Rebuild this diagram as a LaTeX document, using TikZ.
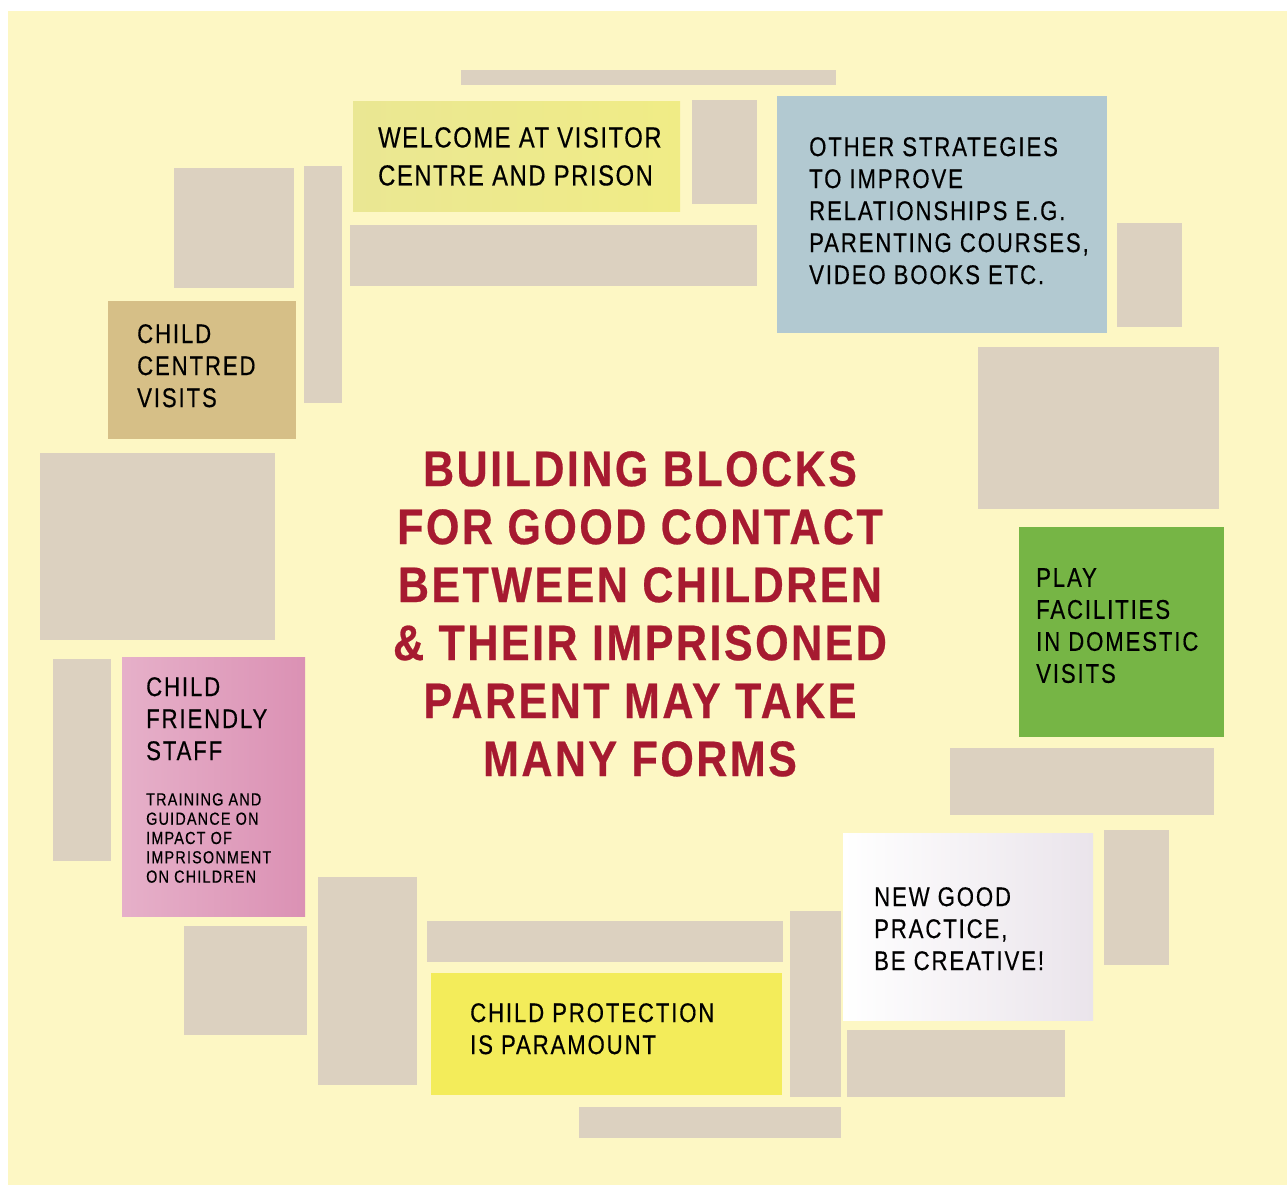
\documentclass[tikz,border=0pt]{standalone}
\usepackage{fontspec}
\newfontfamily\bodyfont[FakeStretch=0.82,LetterSpace=7,FakeBold=0.4]{Liberation Sans}
\newfontfamily\welcomefont[FakeStretch=0.82,LetterSpace=5.5,FakeBold=0.4]{Liberation Sans}
\newfontfamily\headfont[FakeStretch=0.86,LetterSpace=5,FakeBold=0.5]{Liberation Sans}
\definecolor{bgyellow}{HTML}{FDF7C4}
\definecolor{block}{HTML}{DCD1C0}
\definecolor{welcomel}{HTML}{EAE793}
\definecolor{welcomer}{HTML}{F0EC86}
\definecolor{bluec}{HTML}{B2C9D1}
\definecolor{tanc}{HTML}{D6BF87}
\definecolor{greenc}{HTML}{76B545}
\definecolor{pinkl}{HTML}{E6B0C9}
\definecolor{pinkr}{HTML}{DB91B4}
\definecolor{whiter}{HTML}{EAE4EB}
\definecolor{yellowc}{HTML}{F3EC5A}
\definecolor{headred}{HTML}{A61A30}
\tikzset{
  blk/.style={fill=block},
  txt/.style={inner sep=0pt, anchor=north west, align=left, text=black,
    font=\bodyfont\fontsize{27}{32}\selectfont},
  smalltxt/.style={inner sep=0pt, anchor=north west, align=left, text=black,
    font=\bodyfont\fontsize{17.5}{19.3}\selectfont},
  headtxt/.style={inner sep=0pt, anchor=north, align=center, text=headred,
    font=\headfont\bfseries\fontsize{50}{58}\selectfont}
}
\begin{document}
\begin{tikzpicture}[x=1pt,y=-1pt]
\useasboundingbox[fill=white] (0,0) rectangle (1287,1185);
\fill[bgyellow] (8,11) rectangle (1287,1185);
% grey blocks
\fill[blk] (461,70) rectangle (836,85);
\fill[blk] (692,100) rectangle (757,204);
\fill[blk] (350,225) rectangle (757,286);
\fill[blk] (174,168) rectangle (294,288);
\fill[blk] (304,166) rectangle (342,403);
\fill[blk] (40,453) rectangle (275,640);
\fill[blk] (53,659) rectangle (111,861);
\fill[blk] (184,926) rectangle (307,1035);
\fill[blk] (318,877) rectangle (417,1085);
\fill[blk] (427,921) rectangle (783,962);
\fill[blk] (790,911) rectangle (841,1097);
\fill[blk] (579,1107) rectangle (841,1138);
\fill[blk] (847,1030) rectangle (1065,1097);
\fill[blk] (1104,830) rectangle (1169,965);
\fill[blk] (950,748) rectangle (1214,815);
\fill[blk] (978,347) rectangle (1219,509);
\fill[blk] (1117,223) rectangle (1182,327);
% coloured boxes
\shade[left color=welcomel, right color=welcomer] (353,102) rectangle (680,211);
\fill[bluec] (777,96) rectangle (1107,333);
\fill[tanc] (108,301) rectangle (296,439);
\shade[left color=pinkl, right color=pinkr] (122,657) rectangle (305,916);
\fill[greenc] (1019,527) rectangle (1224,737);
\shade[left color=white, right color=whiter] (843,833) rectangle (1093,1020);
\fill[yellowc] (431,973) rectangle (782,1095);
% texts
\node[txt, font=\welcomefont\fontsize{29}{38}\selectfont] (welcome) at (378,127) {WELCOME AT VISITOR\\CENTRE AND PRISON};
\node[txt] (other) at (809,137) {OTHER STRATEGIES\\TO IMPROVE\\RELATIONSHIPS E.G.\\PARENTING COURSES,\\VIDEO BOOKS ETC.};
\node[txt] (centred) at (137,324) {CHILD\\CENTRED\\VISITS};
\node[txt] (friendly) at (146,677) {CHILD\\FRIENDLY\\STAFF};
\node[smalltxt] (training) at (146,793) {TRAINING AND\\GUIDANCE ON\\IMPACT OF\\IMPRISONMENT\\ON CHILDREN};
\node[txt] (play) at (1036,568) {PLAY\\FACILITIES\\IN DOMESTIC\\VISITS};
\node[txt] (newgood) at (874,887) {NEW GOOD\\PRACTICE,\\BE CREATIVE!};
\node[txt] (protection) at (470,1003) {CHILD PROTECTION\\IS PARAMOUNT};
\node[headtxt] (title) at (640,451) {BUILDING BLOCKS\\FOR GOOD CONTACT\\BETWEEN CHILDREN\\\&~THEIR IMPRISONED\\PARENT MAY TAKE\\MANY FORMS};
\end{tikzpicture}
\end{document}
